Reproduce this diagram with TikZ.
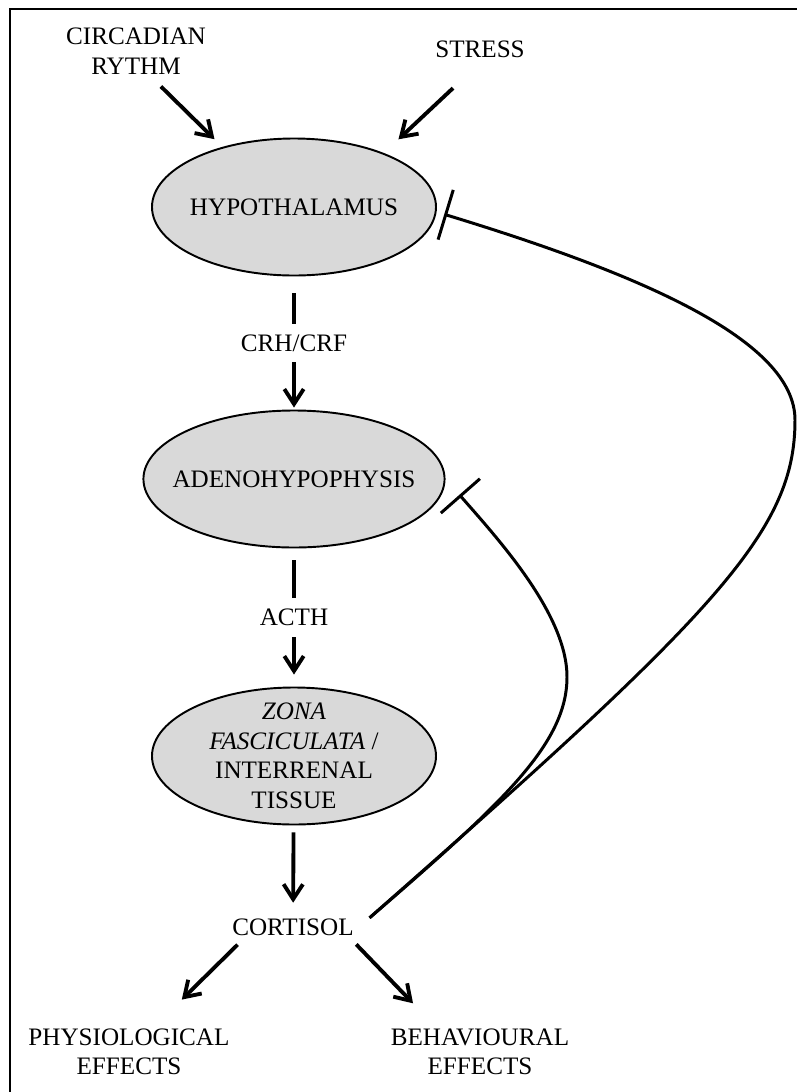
\documentclass[tikz,border=0pt]{standalone}
\usepackage{fontspec}
\setmainfont{Liberation Serif}
\usepackage{tikz}
\usetikzlibrary{arrows.meta, positioning, shapes.geometric}

\begin{document}
\begin{tikzpicture}[scale=1,
    every node/.style={font=\fontsize{14.3}{16.8}\selectfont, align=center, inner sep=0.1cm},
    organ/.style={draw, ellipse, fill=black!15, line width=1.1pt, minimum width=5.68cm, minimum height=2.74cm, inner sep=-0.3cm},
    arr/.style={-{Straight Barb[length=8.5pt, width=11pt]}, line width=2.2pt},
    inhib/.style={-{Bar[width=1.04cm]}, line width=1.7pt},
    lbl/.style={fill=white, inner xsep=0.1cm, inner ysep=0.22cm}]
  % 边框
  \useasboundingbox (0,0) rectangle (15.94,-21.84);
  \draw[line width=1.1pt] (15.94,-0.18) -- (0.2,-0.18) -- (0.2,-21.84);

  % 节点
  \node (circ) at (2.72,-1.02) {CIRCADIAN\\RYTHM};
  \node (stress) at (9.6,-0.98) {STRESS};
  \node[organ] (hyp) at (5.88,-4.14) {HYPOTHALAMUS};
  \node[organ] (adeno) at (5.88,-9.58) {ADENOHYPOPHYSIS};
  \node[organ] (zona) at (5.88,-15.12) {\textit{ZONA}\\\textit{FASCICULATA} /\\INTERRENAL\\TISSUE};
  \node (cortisol) at (5.86,-18.54) {CORTISOL};
  \node (phys) at (2.58,-21.04) {PHYSIOLOGICAL\\EFFECTS};
  \node (behav) at (9.6,-21.04) {BEHAVIOURAL\\EFFECTS};

  % 输入
  \draw[arr, shorten <=0.2cm, shorten >=0.22cm] (circ.-58) -- (hyp.140);
  \draw[arr, shorten <=0.74cm, shorten >=0.4cm] (stress.south) -- (hyp.31);

  % 主轴
  \draw[arr, shorten <=0.34cm, shorten >=0.04cm] (hyp) -- node[lbl] {CRH/CRF} (adeno);
  \draw[arr, shorten <=0.24cm, shorten >=0.24cm] (adeno) -- node[lbl] {ACTH} (zona);
  \draw[arr, shorten <=0.14cm, shorten >=0.21cm] (zona) -- (cortisol);
  \draw[arr, shorten <=0.11cm, shorten >=0.68cm] (cortisol.-165) -- (phys.45);
  \draw[arr, shorten <=0.1cm, shorten >=0.56cm] (cortisol.-13) -- (behav.149);

  % 负反馈
  \draw[inhib, shorten <=0.28cm, shorten >=0.16cm] (cortisol.east)
    .. controls (14.4,-12.2) and (15.9,-10.6) .. (15.9,-8.4)
    .. controls (15.9,-6.8) and (12.8,-5.48) .. (hyp.-2);
  \draw[inhib, shorten <=0.28cm, shorten >=0.42cm] (cortisol.east)
    .. controls (10.0,-16.1) and (11.34,-14.9) .. (11.34,-13.54)
    .. controls (11.34,-12.3) and (10.0,-10.82) .. (adeno.east);
\end{tikzpicture}
\end{document}
